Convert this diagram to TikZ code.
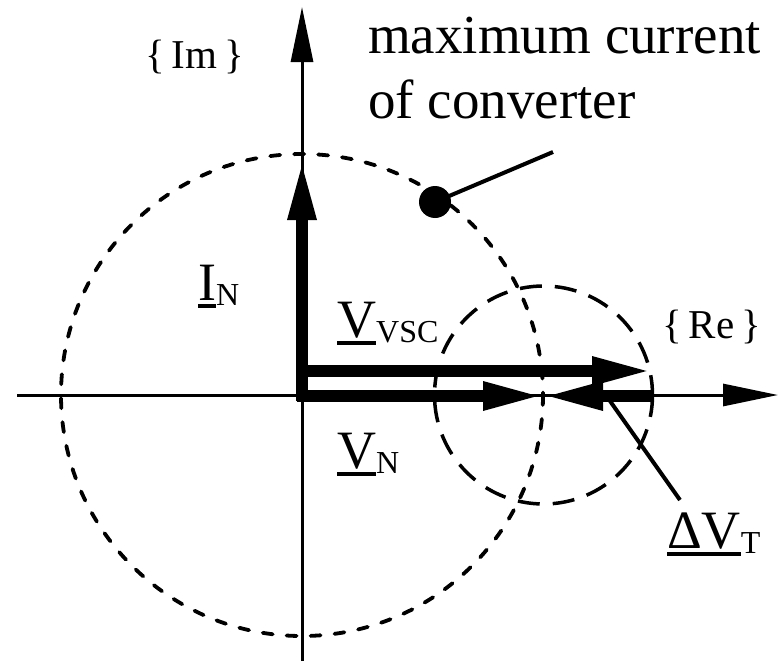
\documentclass[tikz,border=0pt]{standalone}
\usepackage{fontspec}
\setmainfont{Liberation Serif}
\usetikzlibrary{arrows.meta}
\newcommand\ulbar[1]{\setbox0=\hbox{#1}\rlap{\rule[-8pt]{\wd0}{4pt}}\box0}
\newcommand\subl[1]{\raisebox{-5pt}{\fontsize{32}{32}\selectfont #1}}
\begin{document}
\begin{tikzpicture}[x=1pt,y=-1pt,
  axis/.style={line width=3pt,-{Triangle[length=55pt,width=22pt]}},
  phasor/.style={line width=11.5pt,-{Triangle[length=60pt,width=26pt]}},
  limit/.style={line width=3.8pt,dash pattern=on 10pt off 14pt,line cap=round},
  tol/.style={line width=3.5pt,dash pattern=on 22pt off 13pt},
  leader/.style={line width=4pt},
  lab/.style={anchor=base west,inner sep=0pt,font=\rmfamily\fontsize{54}{60}\selectfont},
  axlab/.style={anchor=base west,inner sep=0pt,font=\rmfamily\fontsize{41}{48}\selectfont}]
\useasboundingbox (0,0) rectangle (778,661);
% coordinates
\coordinate (O) at (302,395);
\coordinate (ybot) at (302,661);
\coordinate (ytop) at (302,7);
\coordinate (xleft) at (17,395);
\coordinate (xright) at (778,395);
\coordinate (Itip) at (302,160);
\coordinate (Ov) at (297,371);
\coordinate (Vvsctip) at (652,371);
\coordinate (On) at (297,396);
\coordinate (Vntip) at (543,396);
\coordinate (Dstart) at (653,396);
\coordinate (C2) at (543.5,395);
\coordinate (Lbot) at (680,500);
\coordinate (Ltop) at (610,401);
\coordinate (Mend) at (553,152);
% circles
\draw[limit] (O) circle[radius=241];
\draw[tol] (C2) circle[radius=109];
% axes
\draw[axis] (ybot) -- (ytop);
\draw[axis] (xleft) -- (xright);
% phasors
\draw[phasor] (302,401) -- (Itip);
\draw[phasor] (Ov) -- (Vvsctip);
\draw[phasor] (On) -- (Vntip);
\draw[phasor] (Dstart) -- (Vntip);
% dot on limit circle
\node[circle,fill=black,minimum size=32pt,inner sep=0pt] (dot) at (435,202) {};
\draw[leader] (dot.center) -- (Mend);
\draw[leader] (Ltop) -- (Lbot);
% labels
\node[axlab] (im) at (145,68) {\{\,Im\,\}};
\node[axlab] (re) at (662,338) {\{\,Re\,\}};
\node[lab] (maxc1) at (368,53) {\fontsize{55}{65}\selectfont maximum current};
\node[lab] (maxc2) at (368,118) {\fontsize{55}{65}\selectfont of converter};
\node[lab] (in) at (198,300) {\ulbar{I}\subl{N}};
\node[lab] (vvsc) at (337,337) {\ulbar{V}\subl{VSC}};
\node[lab] (vn) at (337,468) {\ulbar{V}\subl{N}};
\node[lab] (dvt) at (667,548) {\ulbar{ΔV}\subl{T}};
\end{tikzpicture}
\end{document}
